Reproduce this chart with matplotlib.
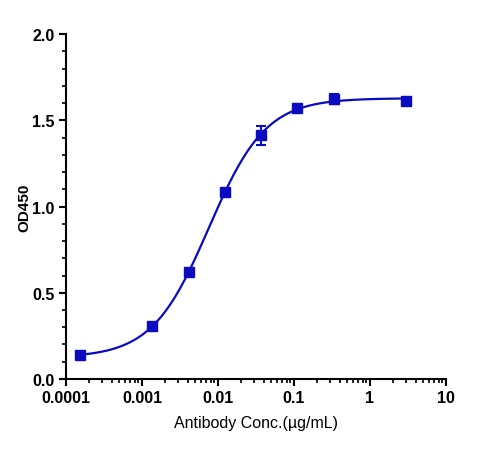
import matplotlib.pyplot as plt
import numpy as np
from matplotlib.ticker import FixedLocator, LogLocator, NullFormatter

# 濃度 (ug/mL) 與 OD450 讀值
conc = [0.000152, 0.00137, 0.00412, 0.0123, 0.037, 0.111, 0.333, 3.0]
od450 = [0.139, 0.307, 0.62, 1.084, 1.414, 1.571, 1.625, 1.61]
od_err = [0.0, 0.0, 0.0, 0.0, 0.056, 0.0, 0.03, 0.0]

x_ticks = [0.0001, 0.001, 0.01, 0.1, 1, 10]
x_ticklabels = ['0.0001', '0.001', '0.01', '0.1', '1', '10']
y_ticks = [0.0, 0.5, 1.0, 1.5, 2.0]

blue = '#0a0ac0'

# 4PL 擬合：對 EC50 與 hill 網格搜尋，底/頂用線性最小平方
lx = np.log10(conc)
yv = np.array(od450)
best = None
for log_ec in np.linspace(-3, -1, 201):
    for h in np.linspace(0.5, 2.5, 201):
        s = 1 / (1 + 10 ** ((log_ec - lx) * h))
        A = np.column_stack([1 - s, s])
        coef, *_ = np.linalg.lstsq(A, yv, rcond=None)
        err = np.sum((A @ coef - yv) ** 2)
        if best is None or err < best[0]:
            best = (err, log_ec, h, coef)
_, log_ec, h, (bottom, top) = best
xf = np.logspace(np.log10(conc[0]), np.log10(conc[-1]), 300)
yf = bottom + (top - bottom) / (1 + 10 ** ((log_ec - np.log10(xf)) * h))

plt.rcParams['font.family'] = ['Liberation Sans', 'DejaVu Sans']

fig = plt.figure(figsize=(4.96, 4.56), dpi=100)
ax = fig.add_axes([0.133, 0.1667, 0.766, 0.7563])

ax.plot(xf, yf, color=blue, linewidth=1.6, zorder=2)
ax.errorbar(conc, od450, yerr=od_err, fmt='s', color=blue, markersize=7,
            elinewidth=1.5, capsize=3.5, capthick=1.5, zorder=3)

ax.set_xscale('log')
ax.set_xlim(0.0001, 10)
ax.set_ylim(0, 2.0)
ax.xaxis.set_major_locator(FixedLocator(x_ticks))
ax.set_xticklabels(x_ticklabels)
ax.xaxis.set_minor_locator(LogLocator(base=10, subs=np.arange(2, 10)))
ax.xaxis.set_minor_formatter(NullFormatter())
ax.set_yticks(y_ticks)
ax.set_yticklabels(['0.0', '0.5', '1.0', '1.5', '2.0'])
ax.yaxis.set_minor_locator(FixedLocator(np.arange(0, 2.01, 0.1)))

for s in ['top', 'right']:
    ax.spines[s].set_visible(False)
for s in ['left', 'bottom']:
    ax.spines[s].set_linewidth(1.5)

ax.tick_params(which='major', length=5, width=1.5, labelsize=11.5, pad=3)
ax.tick_params(which='minor', length=3, width=1.2)
for lab in ax.get_xticklabels() + ax.get_yticklabels():
    lab.set_fontweight('bold')

ax.set_xlabel('Antibody Conc.(µg/mL)', fontsize=11.5, labelpad=7)
ax.set_ylabel('OD450', fontsize=11, fontweight='bold', labelpad=1)

fig.savefig('out.png', dpi=100)
